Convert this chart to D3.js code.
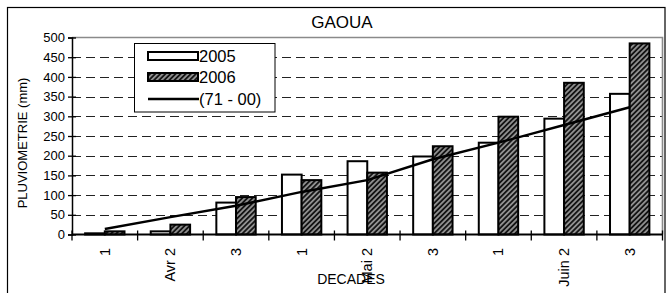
<!DOCTYPE html>
<html>
<head>
<meta charset="utf-8">
<script src="https://cdn.jsdelivr.net/npm/d3@7"></script>
<style>
  body { margin: 0; background: #fff; }
  svg { display: block; font-family: "Liberation Sans", Arial, sans-serif; }
</style>
</head>
<body>
<svg id="chart" width="672" height="293"></svg>
<script>
const categories = ["1", "Avr 2", "3", "1", "Mai 2", "3", "1", "Juin 2", "3"];
const seriesNames = ["2005", "2006", "(71 - 00)"];
const values2005 = [3, 8, 81, 152, 186, 198, 233, 294, 357];
const values2006 = [8, 25, 95, 138, 157, 224, 299, 385, 485];
const normale = [14, 44, 73, 108, 138, 191, 233, 278, 323];
const yTicks = [0, 50, 100, 150, 200, 250, 300, 350, 400, 450, 500];

(function () {
const svg = d3.select("#chart");
const pL = 72, pR = 662.5, pT = 37.5, pB = 234.5;

const defs = svg.append("defs");
const pat = defs.append("pattern")
  .attr("id", "hatch").attr("patternUnits", "userSpaceOnUse")
  .attr("width", 3.6).attr("height", 3.6)
  .attr("patternTransform", "rotate(45)");
pat.append("rect").attr("width", 3.6).attr("height", 3.6).attr("fill", "#141414");
pat.append("line").attr("x1", 1.8).attr("x2", 1.8).attr("y1", 0).attr("y2", 3.6)
  .attr("stroke", "#a8a8a8").attr("stroke-width", 1.5);

// outer border
svg.append("rect").attr("x", 7.5).attr("y", 7.5).attr("width", 657.5).attr("height", 290)
  .attr("fill", "#fff").attr("stroke", "#000").attr("stroke-width", 1.2);

const idx = categories.map((d, i) => i);
const x = d3.scaleBand().domain(idx).range([pL, pR]).paddingInner(0.4).paddingOuter(0.2);
const x1 = d3.scaleBand().domain([0, 1]).range([0, x.bandwidth()]);
const y = d3.scaleLinear().domain([0, 500]).range([pB, pT]);

// gridlines
svg.append("g").selectAll("line").data(yTicks.filter(t => t > 0 && t < 500)).join("line")
  .attr("x1", pL).attr("x2", pR)
  .attr("y1", d => Math.round(y(d)) + 0.5).attr("y2", d => Math.round(y(d)) + 0.5)
  .attr("stroke", "#222").attr("stroke-width", 1).attr("stroke-dasharray", "9,5");

// plot area border top/right (gray)
svg.append("path")
  .attr("d", `M${pL},${pT}H${pR}V${pB}`)
  .attr("fill", "none").attr("stroke", "#8a8a8a").attr("stroke-width", 1.6);

// bars
const groups = svg.append("g").selectAll("g").data(idx).join("g")
  .attr("transform", d => `translate(${x(d)},0)`);
groups.append("rect")
  .attr("x", x1(0)).attr("width", x1.bandwidth())
  .attr("y", d => y(values2005[d])).attr("height", d => y(0) - y(values2005[d]))
  .attr("fill", "#fff").attr("stroke", "#000").attr("stroke-width", 2);
groups.append("rect")
  .attr("x", x1(1)).attr("width", x1.bandwidth())
  .attr("y", d => y(values2006[d])).attr("height", d => y(0) - y(values2006[d]))
  .attr("fill", "url(#hatch)").attr("stroke", "#000").attr("stroke-width", 2);

// normal line
const cx = d => x(d) + x.bandwidth() / 2;
svg.append("path").datum(idx)
  .attr("d", d3.line().x(cx).y(d => y(normale[d])))
  .attr("fill", "none").attr("stroke", "#000").attr("stroke-width", 2.4);

// y axis
const yAxis = d3.axisLeft(y).tickValues(yTicks).tickSize(4).tickPadding(3);
const ya = svg.append("g").attr("transform", `translate(${pL},0)`).call(yAxis);
ya.select(".domain").attr("stroke", "#000").attr("stroke-width", 1.5);
ya.selectAll(".tick line").attr("x2", -4).attr("x1", 4).attr("stroke-width", 1.3);
ya.selectAll(".tick text").attr("font-size", 13).attr("font-family", "Liberation Sans, Arial, sans-serif").attr("fill", "#000");

// x axis
const step = x.step();
const boundaries = d3.range(categories.length + 1).map(i => pL + i * step);
svg.append("line").attr("x1", pL).attr("x2", pR).attr("y1", pB).attr("y2", pB)
  .attr("stroke", "#000").attr("stroke-width", 1.8);
svg.append("g").selectAll("line").data(boundaries).join("line")
  .attr("x1", d => d).attr("x2", d => d).attr("y1", pB - 4).attr("y2", pB + 6)
  .attr("stroke", "#000").attr("stroke-width", 1.3);
svg.append("g").selectAll("text").data(idx).join("text")
  .attr("transform", d => `translate(${cx(d) + 5},248) rotate(-90)`)
  .attr("text-anchor", "end").attr("font-size", 14.5).attr("fill", "#000")
  .text(d => categories[d]);

// titles
svg.append("text").attr("x", 342).attr("y", 28).attr("text-anchor", "middle")
  .attr("font-size", 17).text("GAOUA");
svg.append("text").attr("transform", "translate(27,143) rotate(-90)")
  .attr("text-anchor", "middle").attr("font-size", 13).text("PLUVIOMETRIE (mm)");
svg.append("text").attr("x", 351).attr("y", 284).attr("text-anchor", "middle")
  .attr("font-size", 14).text("DECADES");

// legend
const lg = svg.append("g");
lg.append("rect").attr("x", 134.5).attr("y", 43.5).attr("width", 140.5).attr("height", 68.5)
  .attr("fill", "#fff").attr("stroke", "#000").attr("stroke-width", 1);
const rowsY = [56, 77, 99];
lg.append("rect").attr("x", 148).attr("y", 52).attr("width", 50).attr("height", 8)
  .attr("fill", "#fff").attr("stroke", "#000").attr("stroke-width", 2);
lg.append("rect").attr("x", 148).attr("y", 73).attr("width", 50).attr("height", 8)
  .attr("fill", "url(#hatch)").attr("stroke", "#000").attr("stroke-width", 2);
lg.append("line").attr("x1", 148).attr("x2", 199).attr("y1", 99).attr("y2", 99)
  .attr("stroke", "#000").attr("stroke-width", 2.4);
lg.selectAll("text.lt").data(seriesNames).join("text").attr("class", "lt")
  .attr("x", 199).attr("y", (d, i) => rowsY[i] + 6)
  .attr("font-size", 16.5).attr("fill", "#000").text(d => d);
})();
</script>
</body>
</html>
